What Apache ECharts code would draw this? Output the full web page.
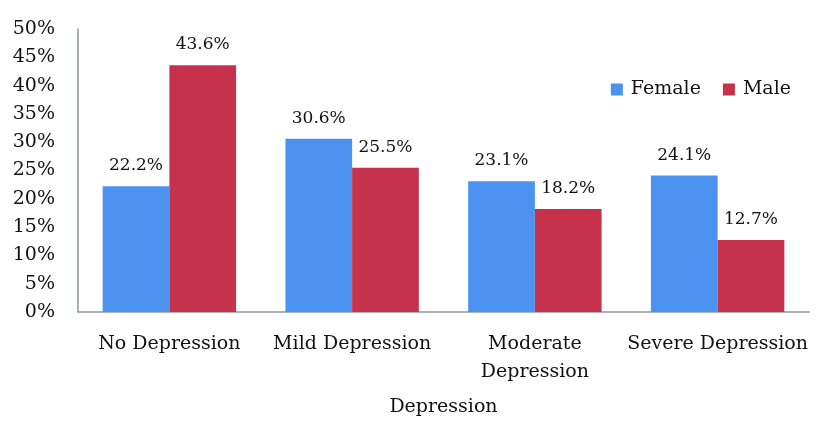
<!DOCTYPE html>
<html><head><meta charset="utf-8">
<script src="https://cdn.jsdelivr.net/npm/echarts@6/dist/echarts.min.js"></script>
<style>html,body{margin:0;padding:0;background:#fff}#c{width:831px;height:432px}</style>
</head><body><div id="c"></div>
<script>
const categories = ['No Depression', 'Mild Depression', 'Moderate\nDepression', 'Severe Depression'];
const female = [22.2, 30.6, 23.1, 24.1];
const male = [43.6, 25.5, 18.2, 12.7];
const yTicks = [0, 5, 10, 15, 20, 25, 30, 35, 40, 45, 50];
const FONT = 'DejaVu Serif';
const chart = echarts.init(document.getElementById('c'));
const lbl = {show: true, position: 'top', distance: 12, color: '#111', fontFamily: FONT, fontSize: 17, formatter: p => p.value.toFixed(1) + '%'};
chart.setOption({
  animation: false,
  textStyle: {fontFamily: FONT},
  grid: {left: 78, right: 22, top: 29, bottom: 120},
  legend: {
    data: ['Female', 'Male'], right: 35, top: 75, itemWidth: 12, itemHeight: 12, itemGap: 22,
    icon: 'rect', textStyle: {fontFamily: FONT, fontSize: 19, color: '#111', padding: [0, 0, 0, 3]}
  },
  xAxis: {
    type: 'category', data: categories, name: 'Depression', nameLocation: 'middle', nameGap: 86,
    nameTextStyle: {fontFamily: FONT, fontSize: 19, color: '#111'},
    axisLine: {lineStyle: {color: '#8c9a9a', width: 1.5}}, axisTick: {show: false},
    axisLabel: {interval: 0, margin: 18, color: '#111', fontFamily: FONT, fontSize: 19, lineHeight: 28}
  },
  yAxis: {
    type: 'value', min: yTicks[0], max: yTicks[yTicks.length - 1], interval: 5,
    axisLine: {show: true, lineStyle: {color: '#8c9a9a', width: 1.5}}, axisTick: {show: false},
    splitLine: {show: false},
    axisLabel: {margin: 23, color: '#111', fontFamily: FONT, fontSize: 19, formatter: v => v + '%'}
  },
  series: [
    {name: 'Female', type: 'bar', data: female, barGap: '0%', barCategoryGap: '27%', itemStyle: {color: '#4c93f1'}, label: lbl},
    {name: 'Male', type: 'bar', data: male, itemStyle: {color: '#c6314b'}, label: lbl}
  ]
});
</script></body></html>
